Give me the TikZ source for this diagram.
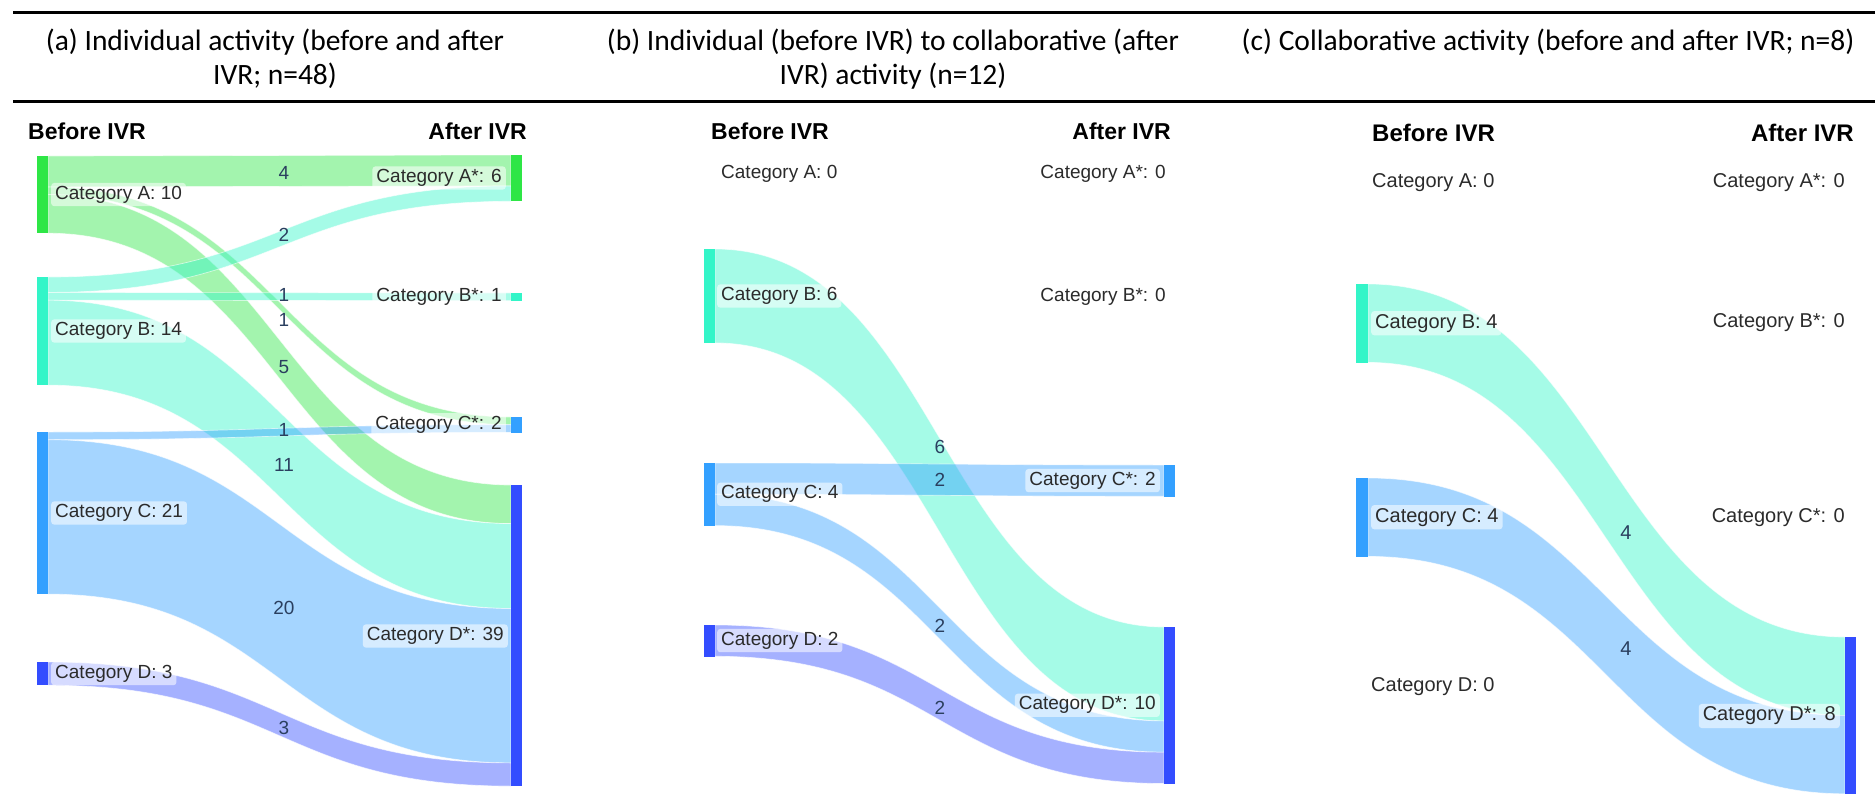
\documentclass[tikz,border=0pt]{standalone}
\usepackage{fontspec}
\setmainfont{Carlito}
\newfontfamily\hv{Liberation Sans}

\definecolor{cA}{RGB}{46,230,70}
\definecolor{cB}{RGB}{51,245,200}
\definecolor{cC}{RGB}{51,160,255}
\definecolor{cD}{RGB}{51,77,255}
\definecolor{ink}{HTML}{2A3F5F}
\definecolor{lbl}{HTML}{2B2B2B}

% a Sankey band: source x, source top, source bottom, target x, target top, target bottom, colour
\newcommand\sflow[7]{%
  \pgfmathsetmacro\xm{(#1+#4)/2}%
  \filldraw[fill=#7, fill opacity=0.44, draw=white, draw opacity=0.6, line width=0.7pt]
    (#1,#2) .. controls (\xm,#2) and (\xm,#5) .. (#4,#5) -- (#4,#6)
    .. controls (\xm,#6) and (\xm,#3) .. (#1,#3) -- cycle;}

\tikzset{
  bar/.style={inner sep=0pt, minimum width=11pt, draw=none, anchor=north west},
  lab/.style={font=\hv\fontsize{19}{22}\selectfont, text=lbl, fill=white, fill opacity=0.55,
    text opacity=1, rounded corners=3pt, inner xsep=4pt, inner ysep=3pt},
  labc/.style={lab, font=\hv\fontsize{20}{23}\selectfont},
  num/.style={font=\hv\fontsize{19}{22}\selectfont, text=ink, inner sep=0pt},
  numc/.style={num, font=\hv\fontsize{20}{23}\selectfont},
  head/.style={font=\hv\bfseries\fontsize{23}{26}\selectfont, inner sep=0pt, text=black},
  headc/.style={head, font=\hv\bfseries\fontsize{24}{27}\selectfont},
  captext/.style={font=\fontsize{29.5}{35}\selectfont, inner sep=0pt, anchor=base},
  rulestyle/.style={line width=3pt, black},
}

\begin{document}
\begin{tikzpicture}[x=1pt, y=-1pt]
\useasboundingbox (0,0) rectangle (1875,805);

% table rules
\coordinate (r1l) at (13,13);  \coordinate (r1r) at (1875,13);
\coordinate (r2l) at (13,102); \coordinate (r2r) at (1875,102);
\draw[rulestyle] (r1l) -- (r1r);
\draw[rulestyle] (r2l) -- (r2r);

% captions
\node[captext] (capa1) at (275,51) {(a) Individual activity (before and after};
\node[captext] (capa2) at (275,85) {IVR; n=48)};
\node[captext] (capb1) at (893,51) {(b) Individual (before IVR) to collaborative (after};
\node[captext] (capb2) at (893,85) {IVR) activity (n=12)};
\node[captext] (capc1) at (1548,51) {(c) Collaborative activity (before and after IVR; n=8)};

% ---------------- panel (a) ----------------
\node[head, anchor=west] (ha1) at (28,131) {Before IVR};
\node[head, anchor=east] (ha2) at (527,131) {After IVR};

\sflow{48}{156}{186.9}{511}{155}{185.9}{cA}
\sflow{48}{186.9}{194.6}{511}{417}{424.7}{cA}
\sflow{48}{194.6}{233.2}{511}{485}{523.6}{cA}
\sflow{48}{277}{292.4}{511}{185.9}{201.3}{cB}
\sflow{48}{292.4}{300.2}{511}{293}{300.7}{cB}
\sflow{48}{300.2}{385.1}{511}{523.6}{608.5}{cB}
\sflow{48}{432}{439.7}{511}{424.7}{432.4}{cC}
\sflow{48}{439.7}{594.1}{511}{608.5}{762.9}{cC}
\sflow{48}{662}{685.2}{511}{762.9}{786.1}{cD}

\node[bar, fill=cA, minimum height=77.2pt] (aA) at (37,156) {};
\node[bar, fill=cB, minimum height=108.1pt] (aB) at (37,277) {};
\node[bar, fill=cC, minimum height=162.1pt] (aC) at (37,432) {};
\node[bar, fill=cD, minimum height=23.2pt] (aD) at (37,662) {};
\node[bar, fill=cA, minimum height=46.3pt] (aAs) at (511,155) {};
\node[bar, fill=cB, minimum height=7.7pt] (aBs) at (511,293) {};
\node[bar, fill=cC, minimum height=15.4pt] (aCs) at (511,417) {};
\node[bar, fill=cD, minimum height=301.1pt] (aDs) at (511,485) {};

\node[lab, anchor=west] (laA) at (51,194.6) {Category A: 10};
\node[lab, anchor=west] (laB) at (51,331) {Category B: 14};
\node[lab, anchor=west] (laC) at (51,513) {Category C: 21};
\node[lab, anchor=west] (laD) at (51,673.6) {Category D: 3};
\node[lab, anchor=east] (laAs) at (506,178) {Category A*: 6};
\node[lab, anchor=east] (laBs) at (506,297) {Category B*: 1};
\node[lab, anchor=east] (laCs) at (506,424.7) {Category C*: 2};
\node[lab, anchor=east] (laDs) at (508,636) {Category D*: 39};

\node[num] (na1) at (284,173) {4};
\node[num] (na2) at (284,235) {2};
\node[num] (na3) at (284,295) {1};
\node[num] (na4) at (284,320) {1};
\node[num] (na5) at (284,367) {5};
\node[num] (na6) at (284,430) {1};
\node[num] (na7) at (284,465) {11};
\node[num] (na8) at (284,608) {20};
\node[num] (na9) at (284,728) {3};

% ---------------- panel (b) ----------------
\node[head, anchor=west] (hb1) at (711,131) {Before IVR};
\node[head, anchor=east] (hb2) at (1171,131) {After IVR};

\sflow{715}{249}{342.9}{1164}{627}{720.9}{cB}
\sflow{715}{463}{494.3}{1164}{465}{496.3}{cC}
\sflow{715}{494.3}{525.6}{1164}{720.9}{752.2}{cC}
\sflow{715}{625}{656.3}{1164}{752.2}{783.5}{cD}

\node[bar, fill=cB, minimum height=93.9pt] (bB) at (704,249) {};
\node[bar, fill=cC, minimum height=62.6pt] (bC) at (704,463) {};
\node[bar, fill=cD, minimum height=31.3pt] (bD) at (704,625) {};
\node[bar, fill=cC, minimum height=31.3pt] (bCs) at (1164,465) {};
\node[bar, fill=cD, minimum height=156.5pt] (bDs) at (1164,627) {};

\node[lab, anchor=west] (lbA) at (717,174) {Category A: 0};
\node[lab, anchor=west] (lbB) at (717,296) {Category B: 6};
\node[lab, anchor=west] (lbC) at (717,494.3) {Category C: 4};
\node[lab, anchor=west] (lbD) at (717,640.6) {Category D: 2};
\node[lab, anchor=east] (lbAs) at (1170,174) {Category A*: 0};
\node[lab, anchor=east] (lbBs) at (1170,297) {Category B*: 0};
\node[lab, anchor=east] (lbCs) at (1160,480.6) {Category C*: 2};
\node[lab, anchor=east] (lbDs) at (1160,705.3) {Category D*: 10};

\node[num] (nb1) at (940,447) {6};
\node[num] (nb2) at (940,480) {2};
\node[num] (nb3) at (940,626) {2};
\node[num] (nb4) at (940,708) {2};

% ---------------- panel (c) ----------------
\node[headc, anchor=west] (hc1) at (1372,133) {Before IVR};
\node[headc, anchor=east] (hc2) at (1854,133) {After IVR};

\sflow{1368}{284}{362.4}{1845}{637}{715.4}{cB}
\sflow{1368}{478}{556.4}{1845}{715.4}{793.8}{cC}

\node[bar, fill=cB, minimum height=78.4pt, minimum width=12pt] (cBn) at (1356,284) {};
\node[bar, fill=cC, minimum height=78.4pt, minimum width=12pt] (cCn) at (1356,478) {};
\node[bar, fill=cD, minimum height=156.8pt] (cDs) at (1845,637) {};

\node[labc, anchor=west] (lcA) at (1368,183) {Category A: 0};
\node[labc, anchor=west] (lcB) at (1371,323.2) {Category B: 4};
\node[labc, anchor=west] (lcC) at (1371,517.2) {Category C: 4};
\node[labc, anchor=west] (lcD) at (1367,687) {Category D: 0};
\node[labc, anchor=east] (lcAs) at (1849,183) {Category A*: 0};
\node[labc, anchor=east] (lcBs) at (1849,323) {Category B*: 0};
\node[labc, anchor=east] (lcCs) at (1849,518) {Category C*: 0};
\node[labc, anchor=east] (lcDs) at (1840,716) {Category D*: 8};

\node[numc] (nc1) at (1626,533) {4};
\node[numc] (nc2) at (1626,649) {4};
\end{tikzpicture}
\end{document}
